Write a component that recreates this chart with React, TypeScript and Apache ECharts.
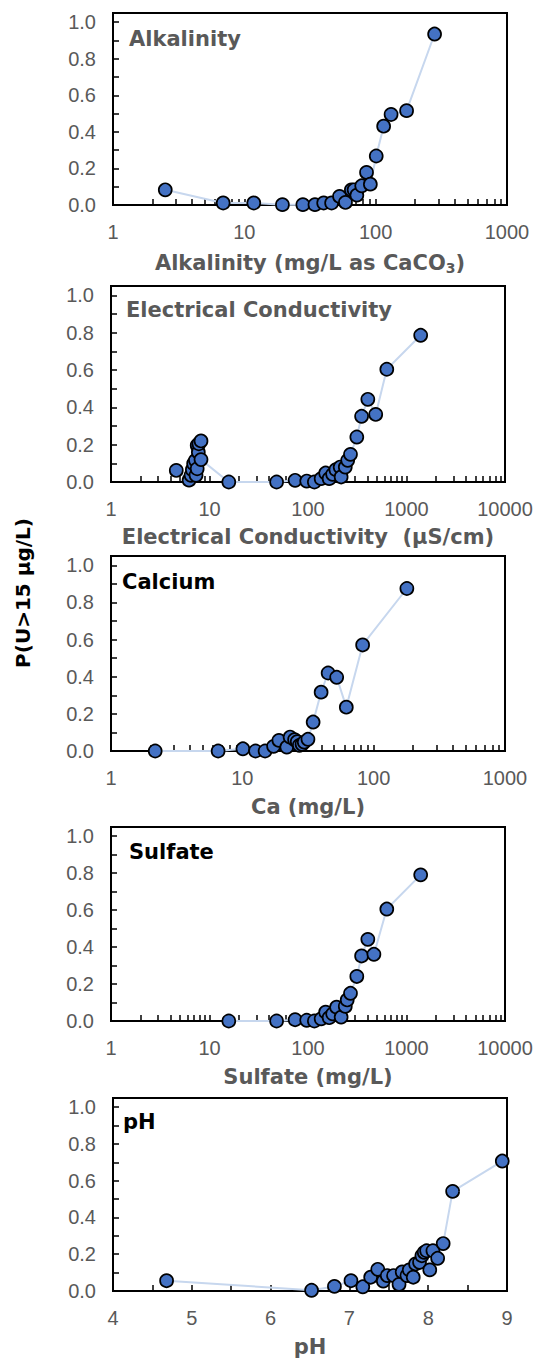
import React, { useEffect, useRef } from "react";
import * as echarts from "echarts";

// Probability of U > 15 µg/L versus water-quality parameter

const ALK_X = [2.5, 6.9, 11.8, 19.5, 27.9, 34.5, 40.2, 46.2, 53.1, 58.9, 65.3, 68.5, 71.9, 78.3, 85.2, 91.1, 101, 115, 131, 172, 281];
const ALK_P = [0.083, 0.011, 0.011, 0.002, 0.002, 0.002, 0.011, 0.011, 0.047, 0.014, 0.083, 0.083, 0.054, 0.105, 0.178, 0.114, 0.268, 0.431, 0.495, 0.516, 0.935];

const EC_X = [4.6, 6.2, 6.5, 6.7, 6.9, 7.2, 7.3, 7.5, 7.5, 7.7, 7.8, 8.2, 8.2, 15.7, 48, 74, 97, 116, 136, 151, 164, 178, 192, 212, 217, 239, 253, 270, 313, 350, 405, 487, 631, 1393];
const EC_P = [0.062, 0.01, 0.036, 0.066, 0.098, 0.116, 0.036, 0.071, 0.196, 0.16, 0.205, 0.22, 0.12, 0.0, 0.0, 0.009, 0.005, 0.0, 0.018, 0.048, 0.018, 0.041, 0.066, 0.08, 0.027, 0.08, 0.116, 0.148, 0.241, 0.352, 0.443, 0.362, 0.604, 0.786];

const CA_X = [2.17, 6.54, 10.1, 12.6, 14.9, 17.3, 19.0, 21.8, 23.1, 25.0, 26.2, 27.2, 28.5, 29.6, 31.6, 34.6, 39.8, 45.0, 52.3, 61.9, 82.4, 179];
const CA_P = [0.0, 0.0, 0.012, 0.0, 0.0, 0.025, 0.057, 0.021, 0.075, 0.061, 0.05, 0.03, 0.036, 0.048, 0.063, 0.156, 0.317, 0.42, 0.397, 0.236, 0.571, 0.875];

const SO4_X = [15.7, 48, 74, 97, 116, 136, 151, 164, 178, 195, 217, 239, 250, 270, 313, 350, 405, 467, 631, 1393];
const SO4_P = [0.0, 0.0, 0.007, 0.004, 0.0, 0.012, 0.048, 0.018, 0.039, 0.075, 0.021, 0.079, 0.114, 0.15, 0.241, 0.352, 0.442, 0.361, 0.606, 0.791];

const PH_X = [4.68, 6.52, 6.81, 7.02, 7.17, 7.27, 7.36, 7.43, 7.48, 7.56, 7.63, 7.67, 7.73, 7.76, 7.81, 7.84, 7.89, 7.92, 7.95, 7.98, 8.02, 8.06, 8.12, 8.19, 8.31, 8.94];
const PH_P = [0.056, 0.004, 0.025, 0.056, 0.023, 0.075, 0.118, 0.054, 0.084, 0.084, 0.036, 0.104, 0.084, 0.115, 0.075, 0.147, 0.156, 0.192, 0.21, 0.219, 0.115, 0.219, 0.178, 0.258, 0.542, 0.707];

// Tick labels
const Y_LABELS = [0, 0.2, 0.4, 0.6, 0.8, 1.0];
const Y_TICKS = [0, 0.1, 0.2, 0.3, 0.4, 0.5, 0.6, 0.7, 0.8, 0.9, 1.0];
const LOG3_LABELS = [1, 10, 100, 1000];
const LOG4_LABELS = [1, 10, 100, 1000, 10000];
const PH_LABELS = [4, 5, 6, 7, 8, 9];
const PH_TICKS = [4, 4.5, 5, 5.5, 6, 6.5, 7, 7.5, 8, 8.5, 9];

const GRAY = "#595959";
const TICK_FONT = '"Liberation Sans", Arial, Helvetica, sans-serif';
const BOLD_FONT = '"DejaVu Sans", "Liberation Sans", sans-serif';

// log-axis tick marks at 1..9 of every decade
function decadeTicks(min: number, max: number): number[] {
  const out: number[] = [];
  for (let d = min; d < max; d *= 10) {
    for (let k = 1; k < 10; k++) out.push(k * d);
  }
  out.push(max);
  return out;
}

type Panel = {
  tag: string;
  tagColor: string;
  xs: number[];
  ps: number[];
  log: boolean;
  min: number;
  max: number;
  labels: number[];
  ticks: number[];
  name: string;
  box: { left: number; top: number; width: number; height: number };
  tagPos: [number, number];
  nameGap: number;
};

const panels: Panel[] = [
  {
    tag: "Alkalinity", tagColor: GRAY, xs: ALK_X, ps: ALK_P, log: true, min: 1, max: 1000,
    labels: LOG3_LABELS, ticks: decadeTicks(1, 1000),
    name: "{t|Alkalinity (mg/L as CaCO}{s|3}{t|)}",
    box: { left: 113, top: 13, width: 394, height: 192 }, tagPos: [129, 39], nameGap: 45,
  },
  {
    tag: "Electrical Conductivity", tagColor: GRAY, xs: EC_X, ps: EC_P, log: true, min: 1, max: 10000,
    labels: LOG4_LABELS, ticks: decadeTicks(1, 10000),
    name: "{t|Electrical Conductivity  (μS/cm)}",
    box: { left: 111, top: 286, width: 394, height: 196 }, tagPos: [126, 310], nameGap: 42,
  },
  {
    tag: "Calcium", tagColor: "#000", xs: CA_X, ps: CA_P, log: true, min: 1, max: 1000,
    labels: LOG3_LABELS, ticks: decadeTicks(1, 1000),
    name: "{t|Ca (mg/L)}",
    box: { left: 111, top: 556, width: 394, height: 195 }, tagPos: [122, 582], nameGap: 43,
  },
  {
    tag: "Sulfate", tagColor: "#000", xs: SO4_X, ps: SO4_P, log: true, min: 1, max: 10000,
    labels: LOG4_LABELS, ticks: decadeTicks(1, 10000),
    name: "{t|Sulfate (mg/L)}",
    box: { left: 111, top: 827, width: 394, height: 194 }, tagPos: [129, 852], nameGap: 43,
  },
  {
    tag: "pH", tagColor: "#000", xs: PH_X, ps: PH_P, log: false, min: 4, max: 9,
    labels: PH_LABELS, ticks: PH_TICKS,
    name: "{t|pH}",
    box: { left: 113, top: 1098, width: 394, height: 193 }, tagPos: [123, 1122], nameGap: 43,
  },
];

function buildOption() {
  const grid: any[] = [];
  const xAxis: any[] = [];
  const yAxis: any[] = [];
  const series: any[] = [];
  const graphic: any[] = [];

  panels.forEach((p, i) => {
    grid.push({
      ...p.box,
      show: true,
      borderColor: "#000",
      borderWidth: 2,
      backgroundColor: "transparent",
      containLabel: false,
      outerBoundsMode: "none",
    });

    xAxis.push({
      gridIndex: i,
      type: p.log ? "log" : "value",
      logBase: 10,
      min: p.min,
      max: p.max,
      axisLine: { show: true, onZero: false, lineStyle: { color: "#000", width: 2 } },
      axisTick: {
        show: true, inside: true, length: 6,
        customValues: p.ticks,
        lineStyle: { color: "#000", width: 1.5 },
      },
      axisLabel: {
        customValues: p.labels,
        margin: 17,
        fontSize: 20,
        fontFamily: TICK_FONT,
        color: GRAY,
        formatter: (v: number) => String(Math.round(v)),
      },
      splitLine: { show: false },
      name: p.name,
      nameLocation: "middle",
      nameGap: p.nameGap,
      nameTextStyle: {
        rich: {
          t: { fontFamily: BOLD_FONT, fontWeight: "bold", fontSize: 21, color: GRAY, lineHeight: 25 },
          s: { fontFamily: BOLD_FONT, fontWeight: "bold", fontSize: 14, color: GRAY, verticalAlign: "bottom", lineHeight: 15 },
        },
      },
    });

    yAxis.push({
      gridIndex: i,
      type: "value",
      min: 0,
      max: 1.05,
      axisLine: { show: true, lineStyle: { color: "#000", width: 2 } },
      axisTick: {
        show: true, inside: true, length: 6,
        customValues: Y_TICKS,
        lineStyle: { color: "#000", width: 1.5 },
      },
      axisLabel: {
        customValues: Y_LABELS,
        margin: 17,
        fontSize: 20,
        fontFamily: TICK_FONT,
        color: GRAY,
        formatter: (v: number) => v.toFixed(1),
      },
      splitLine: { show: false },
    });

    series.push({
      type: "line",
      xAxisIndex: i,
      yAxisIndex: i,
      data: p.xs.map((x, k) => [x, p.ps[k]]),
      symbol: "circle",
      symbolSize: 13,
      showSymbol: true,
      lineStyle: { color: "#c7d7ee", width: 2 },
      itemStyle: { color: "#4472c4", borderColor: "#000", borderWidth: 1.7 },
      z: 3,
    });

    graphic.push({
      type: "text",
      x: p.tagPos[0],
      y: p.tagPos[1],
      style: {
        text: p.tag,
        fontFamily: BOLD_FONT,
        fontWeight: "bold",
        fontSize: 21,
        fill: p.tagColor,
        align: "left",
        verticalAlign: "middle",
      },
      z: 10,
    });
  });

  graphic.push({
    type: "text",
    x: 23,
    y: 593,
    rotation: Math.PI / 2,
    style: {
      text: "P(U>15 μg/L)",
      fontFamily: BOLD_FONT,
      fontWeight: "bold",
      fontSize: 20,
      fill: "#000",
      align: "center",
      verticalAlign: "middle",
    },
    z: 10,
  });

  return {
    animation: false,
    backgroundColor: "#fff",
    grid,
    xAxis,
    yAxis,
    series,
    graphic,
  };
}

export default function App() {
  const ref = useRef<HTMLDivElement>(null);

  useEffect(() => {
    document.body.style.margin = "0";
    if (!ref.current) return;
    const chart = echarts.init(ref.current, null, { renderer: "svg" });
    chart.setOption(buildOption() as any);
    return () => chart.dispose();
  }, []);

  return <div ref={ref} style={{ width: 539, height: 1358 }} />;
}
